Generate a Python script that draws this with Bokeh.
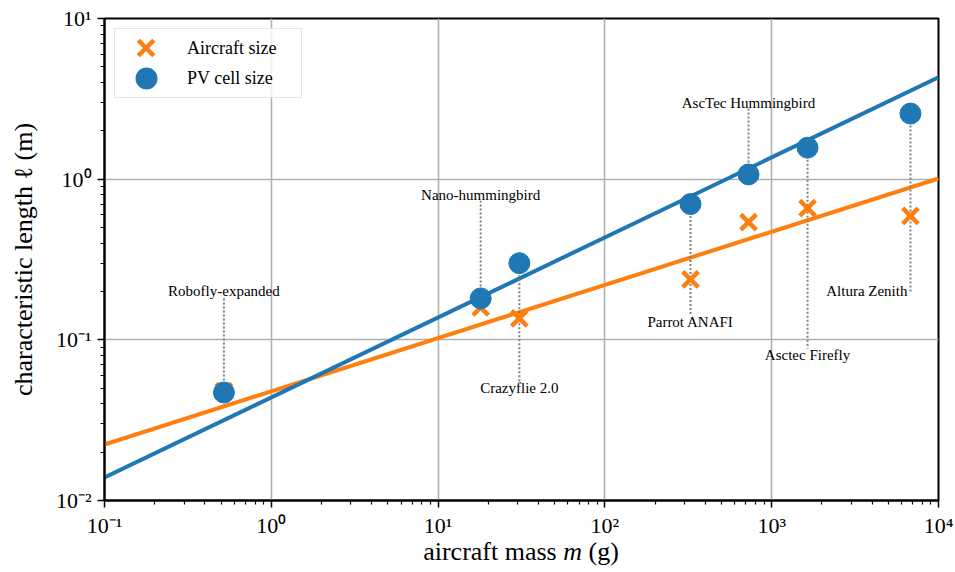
from bokeh.plotting import figure
from bokeh.models import FixedTicker, Legend, LegendItem, Range1d, Div
from bokeh.layouts import column
from bokeh.core.properties import value
from bokeh.embed import file_html
from bokeh.resources import INLINE

# ---- data ----
names = ["Robofly-expanded", "Nano-hummingbird", "Crazyflie 2.0", "Parrot ANAFI",
         "AscTec Hummingbird", "Asctec Firefly", "Altura Zenith"]
mass_g = [0.52, 18.0, 30.7, 326.0, 726.0, 1640.0, 6790.0]
aircraft_len = [0.048, 0.159, 0.136, 0.238, 0.54, 0.66, 0.59]
pv_len = [0.047, 0.181, 0.30, 0.70, 1.07, 1.57, 2.56]
label_y = [0.2, 0.8, 0.05, 0.13, 3.0, 0.081, 0.2]

fit_mass = [0.1, 1e4]
aircraft_fit = [0.0223, 1.01]
pv_fit = [0.0139, 4.3]

x_ticks = [0.1, 1, 10, 100, 1000, 10000]
x_tick_labels = ["10⁻¹", "10⁰", "10¹", "10²", "10³", "10⁴"]
y_ticks = [0.01, 0.1, 1, 10]
y_tick_labels = ["10⁻²", "10⁻¹", "10⁰", "10¹"]

BLUE = "#1f77b4"
ORANGE = "#ff7f0e"
FONT = "Liberation Serif"

p = figure(width=955, height=540, x_axis_type="log", y_axis_type="log",
           x_range=Range1d(0.1, 1e4), y_range=Range1d(0.01, 10),
           output_backend="svg", toolbar_location=None, margin=0,
           min_border_left=104, min_border_right=17, min_border_top=18, min_border_bottom=40)

def minors(ticks):
    out = []
    for t in ticks[:-1]:
        out += [t * k for k in range(2, 10)]
    return out

p.xaxis.ticker = FixedTicker(ticks=x_ticks, minor_ticks=minors(x_ticks))
p.yaxis.ticker = FixedTicker(ticks=y_ticks, minor_ticks=minors(y_ticks))
p.xaxis.major_label_overrides = {t: l for t, l in zip(x_ticks, x_tick_labels)}
p.yaxis.major_label_overrides = {t: l for t, l in zip(y_ticks, y_tick_labels)}

for ax in (p.xaxis, p.yaxis):
    ax.major_label_text_font = FONT
    ax.major_label_text_font_size = "22px"
    ax.major_label_text_color = "black"
    ax.axis_label_text_font = FONT
    ax.axis_label_text_font_size = "26px"
    ax.axis_label_text_font_style = "normal"
    ax.axis_label_text_color = "black"
    ax.axis_line_width = 2
    ax.axis_line_color = "black"
    ax.major_tick_in = 0
    ax.major_tick_out = 7
    ax.minor_tick_in = 0
    ax.minor_tick_out = 4
    ax.major_tick_line_width = 1.5
    ax.minor_tick_line_width = 1.2
    ax.major_tick_line_color = "black"
    ax.minor_tick_line_color = "black"

p.xaxis.major_label_standoff = 5
p.yaxis.major_label_standoff = 6
p.yaxis.axis_label_standoff = 15
p.yaxis.axis_label = "characteristic length ℓ (m)"

p.grid.grid_line_color = "#b0b0b0"
p.grid.grid_line_width = 1.6
p.outline_line_color = "black"
p.outline_line_width = 2
p.background_fill_color = "white"
p.border_fill_color = "white"

# fit lines
p.line(fit_mass, aircraft_fit, line_color=ORANGE, line_width=4)
p.line(fit_mass, pv_fit, line_color=BLUE, line_width=4)

# dotted annotation connectors (from the PV point to just short of the label)
gap = 10 ** (6 / 160.7)
seg_x, seg_y0, seg_y1 = [], [], []
for i, (m, v, ly) in enumerate(zip(mass_g, pv_len, label_y)):
    if i == len(names) - 1:
        end = ly
    elif ly > v:
        end = ly / gap
    else:
        end = ly * gap
    seg_x.append(m)
    seg_y0.append(v)
    seg_y1.append(end)
p.segment(x0=seg_x, y0=seg_y0, x1=seg_x, y1=seg_y1, line_color="#808080",
          line_width=2, line_dash="2 2")

# annotation texts
p.text(x=mass_g[:-1], y=label_y[:-1], text=names[:-1], text_font=value(FONT),
       text_font_size="15px", text_align="center", text_baseline="middle",
       text_color="black")
p.text(x=mass_g[-1:], y=label_y[-1:], text=names[-1:], text_font=value(FONT),
       text_font_size="15px", text_align="right", text_baseline="middle",
       text_color="black", x_offset=-3)

# markers
r_air = p.scatter(mass_g, aircraft_len, marker="x", size=22, line_color=ORANGE,
                  line_width=4.5)
r_pv = p.scatter(mass_g, pv_len, marker="circle", size=21, fill_color=BLUE,
                 line_color=BLUE)

# hidden copies used only to draw the legend keys
px_hidden = p.scatter(mass_g, aircraft_len, marker="x", line_alpha=0, visible=False)
px_circle = p.scatter(mass_g, pv_len, marker="circle", fill_color=BLUE,
                      line_color=BLUE, line_width=10, visible=False)
px_x_big = p.scatter(mass_g, aircraft_len, marker="x", line_color=ORANGE,
                     line_width=4.5, visible=False)

legend = Legend(items=[LegendItem(label="Aircraft size", renderers=[px_hidden]),
                       LegendItem(label="PV cell size", renderers=[px_circle])],
                location="top_left")
legend.label_text_font = FONT
legend.label_text_font_size = "18px"
legend.label_text_color = "black"
legend.border_line_color = "#cccccc"
legend.border_line_width = 1.5
legend.background_fill_alpha = 0.8
legend.inactive_fill_alpha = 0
legend.margin = 10
legend.padding = 4
legend.spacing = 0
legend.glyph_width = 54
legend.glyph_height = 30
legend.label_height = 30
legend.label_width = 110
legend.label_standoff = 14
p.add_layout(legend)

# a second, frameless legend that only carries the large X key
legend_x = Legend(items=[LegendItem(label=" ", renderers=[px_x_big])],
                  location=(13.5, 425.5))
legend_x.border_line_color = None
legend_x.background_fill_alpha = 0
legend_x.inactive_fill_alpha = 0
legend_x.margin = 0
legend_x.padding = 0
legend_x.glyph_width = 55
legend_x.glyph_height = 55
legend_x.label_height = 55
legend_x.label_standoff = 0
legend_x.label_text_font_size = "2px"
p.add_layout(legend_x)

# x-axis title (with italic m) as real HTML text under the plot
xlabel = Div(text="aircraft mass <i>m</i> (g)", width=955, height=32, margin=0,
             styles={"font-family": "'Liberation Serif', serif", "font-size": "26px",
                     "line-height": "24px", "color": "black", "text-align": "center",
                     "width": "834px", "margin-left": "104px", "background": "white"})

layout = column(p, xlabel, spacing=0, margin=0)
open("out.html", "w").write(file_html(layout, INLINE))
